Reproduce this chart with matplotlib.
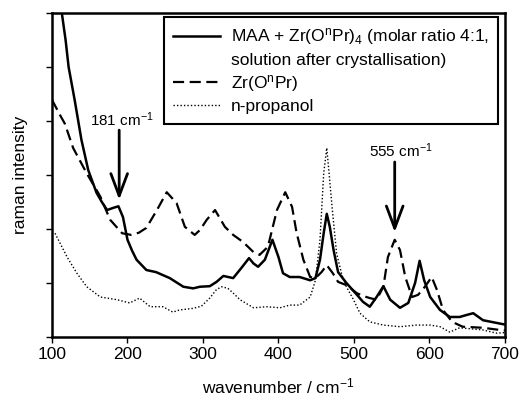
import matplotlib
matplotlib.use("Agg")
import matplotlib.pyplot as plt
from matplotlib.lines import Line2D

plt.rcParams['font.family'] = ['Liberation Sans', 'DejaVu Sans']
plt.rcParams['mathtext.fontset'] = 'custom'
plt.rcParams['mathtext.rm'] = 'Liberation Sans'
plt.rcParams['mathtext.it'] = 'Liberation Sans:italic'
plt.rcParams['mathtext.default'] = 'regular'

# MAA + Zr(OnPr)4 solution
wn_maa = [100, 106, 113, 118, 122, 130, 139, 148, 159, 166, 173, 181, 188, 194, 200, 206,
          212, 225, 238, 256, 274, 287, 296, 309, 318, 327, 340, 351, 361, 367, 373, 382,
          392, 400, 406, 415, 428, 442, 449, 455, 460, 464, 468, 473, 479, 490, 504, 512,
          521, 530, 539, 548, 561, 572, 581, 587, 593, 601, 614, 627, 640, 650, 658, 671,
          689, 700]
maa = [7.7, 6.8, 6.0, 5.5, 5.0, 4.39, 3.65, 3.09, 2.67, 2.5, 2.35, 2.39, 2.42, 2.22, 1.8, 1.6,
       1.43, 1.24, 1.2, 1.09, 0.93, 0.9, 0.93, 0.94, 1.02, 1.13, 1.09, 1.28, 1.46, 1.36, 1.3, 1.43,
       1.8, 1.48, 1.18, 1.11, 1.11, 1.05, 1.09, 1.43, 1.93, 2.28, 2.04, 1.61, 1.2, 1.0, 0.78, 0.65,
       0.56, 0.74, 0.94, 0.69, 0.54, 0.63, 1.0, 1.41, 1.05, 0.74, 0.5, 0.37, 0.37, 0.41, 0.44, 0.31,
       0.26, 0.23]

# Zr(OnPr)
wn_zr = [100, 111, 117, 128, 146, 164, 177, 193, 205, 215, 225, 239, 252, 265, 276, 289, 296,
         305, 316, 329, 340, 353, 367, 375, 386, 398, 409, 418, 424, 433, 442, 449, 457, 464,
         472, 479, 490, 504, 512, 521, 530, 539, 545, 554, 561, 568, 577, 585, 594, 603, 610,
         618, 630, 644, 671, 693, 700]
zr = [4.39, 4.1, 3.95, 3.5, 3.03, 2.6, 2.17, 1.92, 1.89, 1.93, 2.02, 2.35, 2.68, 2.48, 2.04, 1.89, 1.98,
      2.17, 2.35, 2.04, 1.89, 1.76, 1.57, 1.52, 1.67, 2.35, 2.68, 2.41, 1.93, 1.43, 1.11, 1.09, 1.2, 1.33,
      1.18, 1.02, 0.96, 0.81, 0.76, 0.72, 0.69, 0.93, 1.48, 1.8, 1.61, 1.11, 0.74, 0.78, 0.93, 1.11, 0.87,
      0.5, 0.28, 0.19, 0.17, 0.13, 0.12]

# n-propanol
wn_prop = [104, 120, 133, 146, 164, 186, 203, 216, 230, 247, 260, 269, 287, 298, 309, 318, 325,
           333, 341, 349, 367, 384, 402, 415, 428, 442, 449, 455, 460, 464, 467, 471, 477, 484,
           490, 499, 508, 521, 539, 561, 583, 601, 614, 627, 640, 671, 689, 700]
prop = [1.92, 1.48, 1.18, 0.93, 0.74, 0.69, 0.63, 0.72, 0.56, 0.56, 0.46, 0.5, 0.53, 0.57, 0.72, 0.88, 0.93,
        0.9, 0.8, 0.69, 0.54, 0.56, 0.54, 0.59, 0.59, 0.74, 1.05, 1.8, 3.04, 3.5, 3.04, 2.41, 1.55, 1.15,
        0.93, 0.7, 0.44, 0.28, 0.22, 0.19, 0.22, 0.22, 0.19, 0.09, 0.17, 0.13, 0.07, 0.08]

fig = plt.figure(figsize=(5.2, 4.05), dpi=100)
ax = fig.add_axes([0.1, 0.168, 0.871, 0.8])

ax.plot(wn_maa, maa, color='black', lw=1.8, ls='-')
ax.plot(wn_zr, zr, color='black', lw=1.6, ls=(0, (5, 2.5)))
ax.plot(wn_prop, prop, color='black', lw=1.0, ls=(0, (1, 1.5)))

ax.set_xlim(100, 700)
ax.set_ylim(0, 6)
ax.set_xticks([100, 200, 300, 400, 500, 600, 700])
ax.set_yticks([0, 1, 2, 3, 4, 5, 6])
ax.set_yticklabels([])
ax.tick_params(direction='out', length=4, width=1, labelsize=12.5)
for s in ax.spines.values():
    s.set_linewidth(1.8)

ax.set_xlabel('wavenumber / cm$^{-1}$', fontsize=12.5, labelpad=10)
ax.set_ylabel('raman intensity', fontsize=12.5, labelpad=10)

# arrows
arrow = dict(arrowstyle='->,head_length=0.8,head_width=0.3', lw=2.0, color='black',
             mutation_scale=20, shrinkA=0, shrinkB=0)
ax.annotate('', xy=(189, 2.54), xytext=(189, 3.83), arrowprops=arrow)
ax.text(193, 3.86, '181 cm$^{-1}$', ha='center', va='bottom', fontsize=11)
ax.annotate('', xy=(554, 1.94), xytext=(554, 3.24), arrowprops=arrow)
ax.text(562, 3.28, '555 cm$^{-1}$', ha='center', va='bottom', fontsize=11)

handles = [Line2D([], [], color='black', lw=1.8),
           Line2D([], [], color='none'),
           Line2D([], [], color='black', lw=1.6, ls=(0, (5, 2.5))),
           Line2D([], [], color='black', lw=1.0, ls=(0, (1, 1.5)))]
labels = ['MAA + Zr(O$^{n}$Pr)$_{4}$ (molar ratio 4:1,',
          'solution after crystallisation)',
          'Zr(O$^{n}$Pr)',
          'n-propanol']
leg = ax.legend(handles, labels, loc='upper right', bbox_to_anchor=(0.985, 0.988),
                borderaxespad=0, fontsize=12.5, handlelength=2.7, handletextpad=0.6,
                labelspacing=0.3, borderpad=0.55, fancybox=False, framealpha=1,
                edgecolor='black')
leg.get_frame().set_linewidth(1.5)

plt.savefig('out.png', dpi=100)
